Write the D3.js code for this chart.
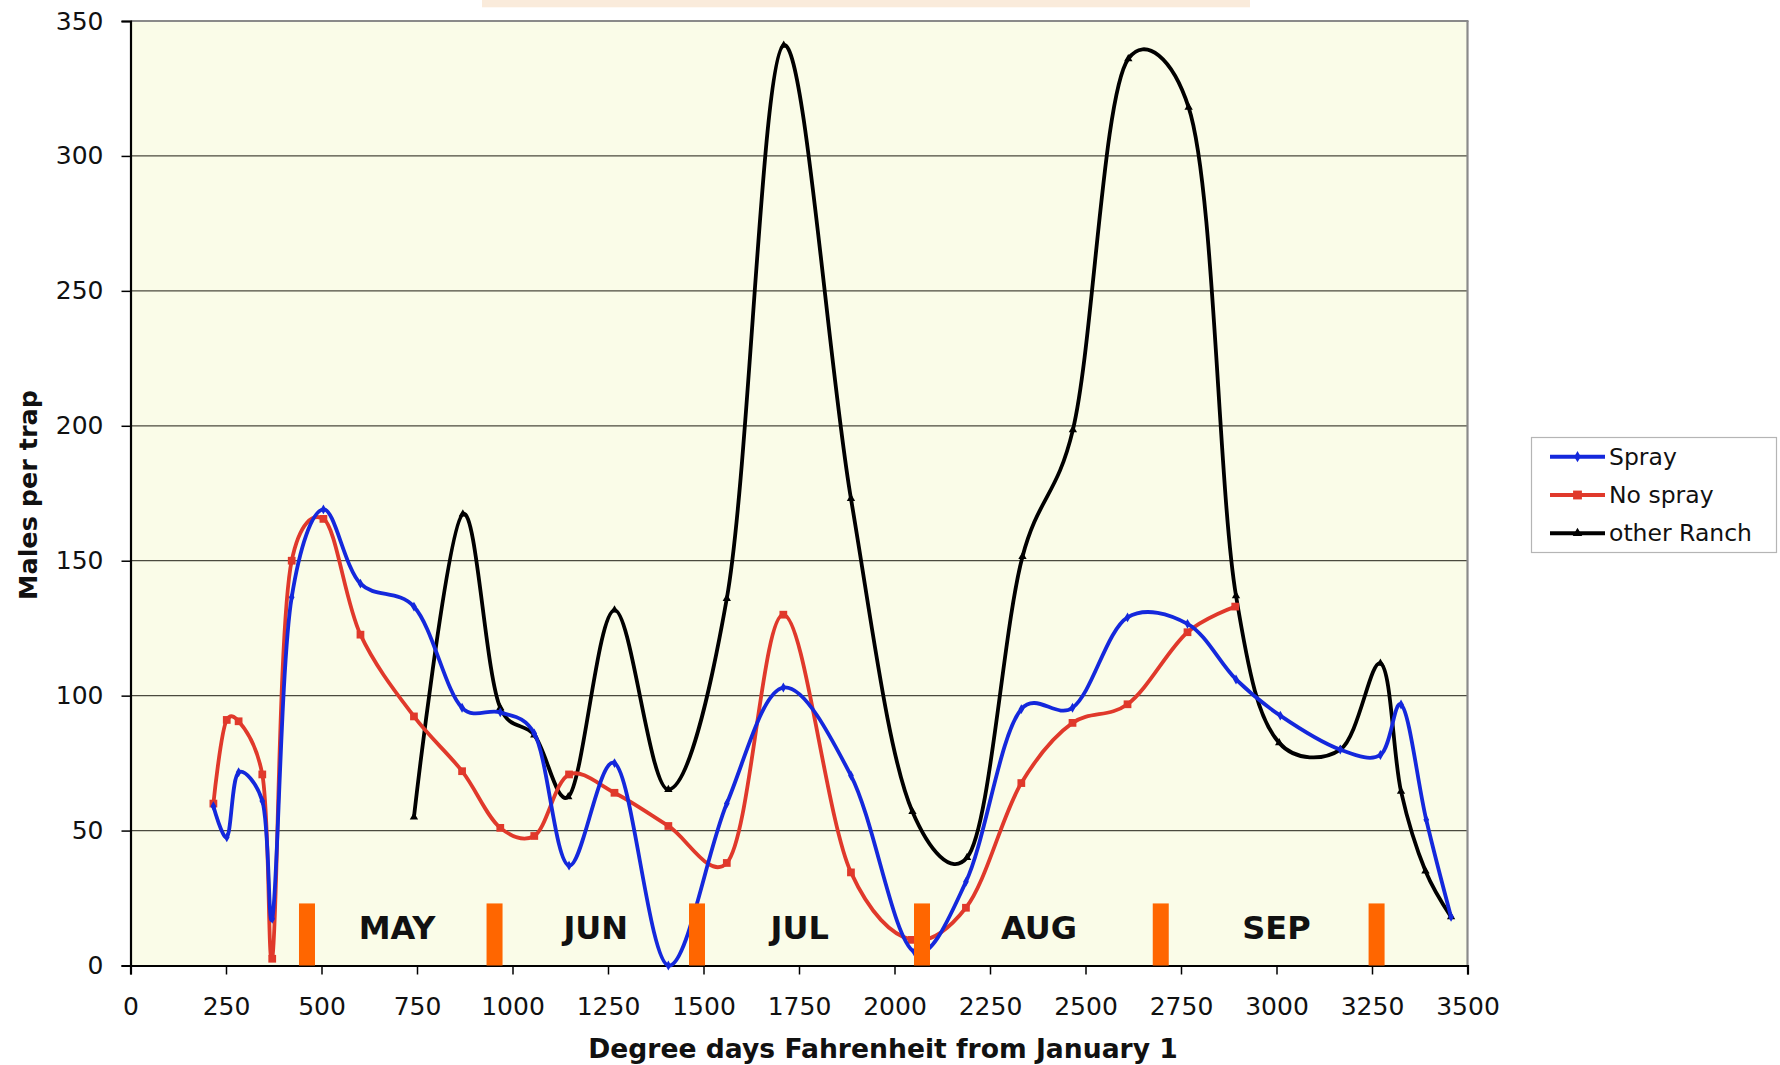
<!DOCTYPE html>
<html><head><meta charset="utf-8">
<script src="https://cdn.jsdelivr.net/npm/d3@7"></script>
<style>body{margin:0;background:#fff;} svg{display:block;}</style>
</head><body>
<svg id="chart" width="1780" height="1065"></svg>
<script>
// ---- data (degree days F from Jan 1, males per trap) ----
const sprayDD     = [217, 252, 283, 345, 371, 422, 505, 602, 742, 868, 968, 1057, 1148, 1267, 1408, 1561, 1709, 1886, 2052, 2187, 2332, 2466, 2610, 2767, 2894, 3010, 3167, 3272, 3326, 3392, 3457];
const sprayMales  = [59, 47.5, 71.6, 61, 17.3, 136.5, 169, 141.5, 133, 95.5, 93.8, 86, 37, 75, 0, 60, 103, 70.4, 5, 31, 95, 95.5, 129, 126.6, 106, 92.6, 80, 78, 96.7, 54, 18];
const noSprayDD    = [217, 252, 283, 345, 371, 422, 505, 602, 742, 868, 968, 1057, 1148, 1267, 1408, 1561, 1709, 1886, 2045, 2187, 2332, 2466, 2610, 2767, 2892];
const noSprayMales = [60, 91, 90.5, 70.8, 2.5, 150, 165.5, 122.6, 92.3, 72, 51, 48, 70.8, 64, 51.7, 38, 130, 34.5, 9.5, 21.4, 67.6, 89.9, 96.8, 123.5, 133];
const ranchDD     = [742, 870, 968, 1057, 1146, 1267, 1408, 1561, 1710, 1886, 2047, 2190, 2335, 2467, 2612, 2770, 2894, 3007, 3167, 3272, 3326, 3390, 3457];
const ranchMales  = [55, 167.3, 95.5, 85.4, 62.5, 131.7, 65.2, 136, 341, 173, 57, 40, 151.5, 198.5, 336, 318, 137, 82.5, 80, 112, 64.5, 35, 18];
const seriesNames = ["Spray", "No spray", "other Ranch"];
const months        = ["MAY", "JUN", "JUL", "AUG", "SEP"];
const monthLabelDD  = [698, 1218, 1752, 2378, 3000];
const monthBoundaryDD = [462, 953, 1483, 2072, 2697, 3262];
const xTicks = [0, 250, 500, 750, 1000, 1250, 1500, 1750, 2000, 2250, 2500, 2750, 3000, 3250, 3500];
const yTicks = [0, 50, 100, 150, 200, 250, 300, 350];
const xTitle = "Degree days Fahrenheit from January 1";
const yTitle = "Males per trap";

// ---- layout / style ----
const W = 1780, H = 1065;
const L = 130.5, R = 1467.5, T = 21, B = 965.5;
const FONT = "'DejaVu Sans', Verdana, sans-serif";
const colors = ["#1428DC", "#E0392B", "#000000"];

const svg = d3.select("#chart");
const x = d3.scaleLinear().domain([0, 3500]).range([L, R]);
const y = d3.scaleLinear().domain([0, 350]).range([B, T]);

// peach title remnant
svg.append("rect").attr("x", 482).attr("y", 0).attr("width", 768).attr("height", 7.3).attr("fill", "#FAEBDB");

// plot background
svg.append("rect").attr("x", L).attr("y", T).attr("width", R - L).attr("height", B - T).attr("fill", "#FAFCE8");

// gridlines
svg.append("g").selectAll("line").data(yTicks.filter(v => v > 0 && v < 350)).join("line")
  .attr("x1", L).attr("x2", R).attr("y1", d => y(d)).attr("y2", d => y(d))
  .attr("stroke", "#4a4a3e").attr("stroke-width", 1.3);

// top & right border
svg.append("line").attr("x1", L).attr("x2", R + 1).attr("y1", T).attr("y2", T).attr("stroke", "#8a8a8a").attr("stroke-width", 2.2);
svg.append("line").attr("x1", R).attr("x2", R).attr("y1", T).attr("y2", B).attr("stroke", "#8a8a8a").attr("stroke-width", 2.2);

// axes
const xAxis = d3.axisBottom(x).tickValues(xTicks).tickSize(9).tickPadding(23).tickFormat(d3.format("d"));
const gx = svg.append("g").attr("transform", `translate(0,${B})`).call(xAxis);
gx.select(".domain").attr("stroke", "#000").attr("stroke-width", 2.2);
gx.selectAll(".tick line").attr("stroke", "#000").attr("stroke-width", 1.5);
gx.selectAll(".tick text").attr("font-family", FONT).attr("font-size", 25).attr("fill", "#111").attr("dy", "0.71em");

const yAxis = d3.axisLeft(y).tickValues(yTicks).tickSize(9).tickPadding(18).tickFormat(d3.format("d"));
const gy = svg.append("g").attr("transform", `translate(${L},0)`).call(yAxis);
gy.select(".domain").attr("stroke", "#000").attr("stroke-width", 2.2);
gy.selectAll(".tick line").attr("stroke", "#000").attr("stroke-width", 1.5);
gy.selectAll(".tick text").attr("font-family", FONT).attr("font-size", 25).attr("fill", "#111");

// titles
svg.append("text").attr("x", 883).attr("y", 1048).attr("text-anchor", "middle").attr("dominant-baseline", "central")
  .attr("font-family", FONT).attr("font-weight", "bold").attr("font-size", 26.6).attr("fill", "#111").text(xTitle);
svg.append("text").attr("transform", "translate(28,495) rotate(-90)").attr("text-anchor", "middle").attr("dominant-baseline", "central")
  .attr("font-family", FONT).attr("font-weight", "bold").attr("font-size", 25.5).attr("fill", "#111").text(yTitle);

// series
const series = [
  {name: seriesNames[0], dd: sprayDD, v: sprayMales, color: colors[0], sym: d3.symbolDiamond, size: 28},
  {name: seriesNames[1], dd: noSprayDD, v: noSprayMales, color: colors[1], sym: d3.symbolSquare, size: 60},
  {name: seriesNames[2], dd: ranchDD, v: ranchMales, color: colors[2], sym: d3.symbolTriangle, size: 30}
];
const line = d3.line().x(d => x(d[0])).y(d => y(d[1])).curve(d3.curveCatmullRom.alpha(0.25));
const plot = svg.append("g");
series.slice().reverse().forEach(s => {
  const pts = s.dd.map((d, i) => [d, s.v[i]]);
  plot.append("path").datum(pts).attr("d", line).attr("fill", "none")
    .attr("stroke", s.color).attr("stroke-width", 3.8).attr("stroke-linejoin", "round").attr("stroke-linecap", "round");
  plot.append("g").selectAll("path").data(pts).join("path")
    .attr("transform", d => `translate(${x(d[0])},${y(d[1])})`)
    .attr("d", d3.symbol().type(s.sym).size(s.size)).attr("fill", s.color);
});

// month boundary markers
const barW = 16;
svg.append("g").selectAll("rect").data(monthBoundaryDD).join("rect")
  .attr("x", d => x(d) - barW / 2).attr("y", y(23)).attr("width", barW).attr("height", y(0) - y(23))
  .attr("fill", "#FF6600");

// month labels
svg.append("g").selectAll("text").data(months).join("text")
  .attr("x", (d, i) => x(monthLabelDD[i])).attr("y", y(14))
  .attr("text-anchor", "middle").attr("dominant-baseline", "central")
  .attr("font-family", FONT).attr("font-weight", "bold").attr("font-size", 32).attr("fill", "#111")
  .text(d => d);

// legend
const lg = svg.append("g");
lg.append("rect").attr("x", 1531.5).attr("y", 437.5).attr("width", 245).attr("height", 115)
  .attr("fill", "#fff").attr("stroke", "#b5b5b5").attr("stroke-width", 1.2);
const legendY = d3.scalePoint().domain(seriesNames).range([456.7, 533.3]);
series.forEach(s => {
  const yy = legendY(s.name);
  lg.append("line").attr("x1", 1550).attr("x2", 1605).attr("y1", yy).attr("y2", yy)
    .attr("stroke", s.color).attr("stroke-width", 4);
  lg.append("path").attr("transform", `translate(1577.5,${yy})`).attr("d", d3.symbol().type(s.sym).size(s.size * 1.3)).attr("fill", s.color);
  lg.append("text").attr("x", 1609).attr("y", yy).attr("dominant-baseline", "central")
    .attr("font-family", FONT).attr("font-size", 23.5).attr("fill", "#111").text(s.name);
});
</script>
</body></html>
